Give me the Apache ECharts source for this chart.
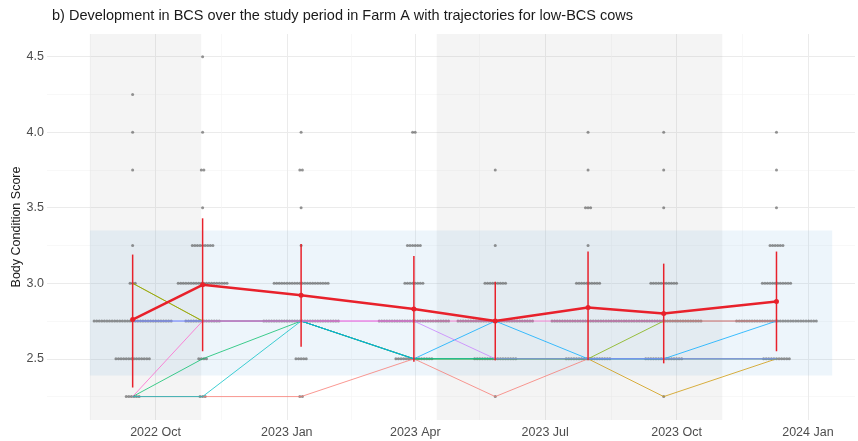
<!DOCTYPE html>
<html>
<head>
<meta charset="utf-8">
<title>BCS Farm A</title>
<script src="https://cdn.jsdelivr.net/npm/echarts@6/dist/echarts.min.js"></script>
<style>
  html, body { margin: 0; padding: 0; background: #fff; }
  #chart { width: 858px; height: 441px; }
</style>
</head>
<body>
<div id="chart"></div>
<script>
// visit dates and herd summary (mean +/- sd)
var visitDates = ['2022-09-15', '2022-11-03', '2023-01-11', '2023-03-31', '2023-05-27', '2023-07-31', '2023-09-22', '2023-12-10'];
var meanBCS  = [2.76, 2.99, 2.92, 2.83, 2.75, 2.84, 2.80, 2.88];
var lowerBCS = [2.31, 2.55, 2.58, 2.48, 2.49, 2.49, 2.47, 2.55];
var upperBCS = [3.19, 3.43, 3.26, 3.18, 3.01, 3.21, 3.13, 3.21];

// number of cows per score at each visit
var scoreLevels = [2.25, 2.5, 2.75, 3.0, 3.25, 3.5, 3.75, 4.0, 4.25, 4.5];
var scoreCounts = [
  [6, 14, 31, 3, 1, 0, 1, 1, 1, 0],
  [3, 4, 14, 20, 9, 1, 2, 1, 0, 1],
  [2, 5, 30, 22, 1, 1, 2, 1, 0, 0],
  [0, 15, 28, 8, 6, 0, 0, 2, 0, 0],
  [1, 17, 30, 9, 1, 0, 1, 0, 0, 0],
  [0, 18, 29, 10, 1, 3, 1, 1, 0, 0],
  [1, 15, 30, 11, 0, 1, 1, 1, 0, 0],
  [0, 11, 32, 12, 6, 1, 1, 1, 0, 0]
];

// low-BCS cows followed over the visits
var cow1 = [2.25, 2.25, 2.25, 2.5, 2.25, 2.5, 2.5, 2.5];
var cow2 = [3.0, 2.75, 2.75, 2.5, 2.5, 2.5, 2.25, 2.5];
var cow3 = [3.0, 2.75, 2.75, 2.5, 2.5, 2.5, 2.75, 2.75];
var cow4 = [2.25, 2.5, 2.75, 2.5, 2.5, 2.5, 2.5, 2.5];
var cow5 = [2.25, 2.25, 2.75, 2.5, 2.5, 2.5, 2.5, 2.5];
var cow6 = [2.75, 2.75, 2.75, 2.5, 2.75, 2.5, 2.5, 2.75];
var cow7 = [2.75, 2.75, 2.75, 2.75, 2.5, 2.5, 2.5, 2.5];
var cow8 = [2.25, 2.75, 2.75, 2.75, 2.75, 2.75, 2.75, 2.75];
var lowCows = [cow1, cow2, cow3, cow4, cow5, cow6, cow7, cow8];

// grazing periods and target range
var periodStart = ['2022-08-16', '2023-04-16'];
var periodEnd   = ['2022-11-02', '2023-11-02'];
var targetLow = 2.39, targetHigh = 3.35;
var targetStart = '2022-08-16', targetEnd = '2024-01-18';

var tickDates  = ['2022-10-01', '2023-01-01', '2023-04-01', '2023-07-01', '2023-10-01', '2024-01-01'];
var tickLabels = ['2022 Oct', '2023 Jan', '2023 Apr', '2023 Jul', '2023 Oct', '2024 Jan'];
var minorDates = ['2022-08-16', '2022-11-16', '2023-02-15', '2023-05-16', '2023-08-16', '2023-11-16'];

function ts(d) { return new Date(d + 'T00:00:00Z').getTime(); }
var DAY = 86400000;
var visitTimes = visitDates.map(ts);
var tickTimes = tickDates.map(ts);

var cowColors = ['#F8766D', '#CD9600', '#7CAE00', '#00BE67', '#00BFC4', '#00A9FF', '#C77CFF', '#FF61CC'];
var font = 'Liberation Sans, Arial, sans-serif';

// beeswarm-ish layout: cows with the same score are set side by side
var dotGap = 1.8 * DAY;
var dots = [];
scoreCounts.forEach(function (row, v) {
  row.forEach(function (n, k) {
    for (var i = 0; i < n; i++) {
      dots.push([visitTimes[v] + (i - (n - 1) / 2) * dotGap, scoreLevels[k]]);
    }
  });
});

var gridColor = '#ebebeb';
var xMin = ts('2022-07-17'), xMax = ts('2024-02-03');
var yMin = 2.095, yMax = 4.65;

var series = [];

series.push({
  type: 'scatter',
  data: dots,
  symbolSize: 3,
  itemStyle: { color: 'rgba(80,80,80,0.75)' },
  silent: true,
  z: 3,
  markArea: {
    silent: true,
    data: periodStart.map(function (s, i) {
      return [{ xAxis: ts(s), itemStyle: { color: 'rgba(180,180,180,0.14)' } }, { xAxis: ts(periodEnd[i]) }];
    }).concat([[
      { xAxis: ts(targetStart), yAxis: targetHigh, itemStyle: { color: 'rgba(135,190,230,0.15)' } },
      { xAxis: ts(targetEnd), yAxis: targetLow }
    ]])
  }
});

lowCows.forEach(function (cow, c) {
  series.push({
    type: 'line',
    data: cow.map(function (b, i) { return [visitTimes[i], b]; }),
    showSymbol: false,
    silent: true,
    lineStyle: { color: cowColors[c], width: 1, opacity: 0.75 },
    z: 4
  });
});

series.push({
  type: 'custom',
  data: visitTimes.map(function (t, i) { return [t, lowerBCS[i], upperBCS[i]]; }),
  encode: { x: 0, y: [1, 2] },
  renderItem: function (params, api) {
    var lo = api.coord([api.value(0), api.value(1)]);
    var hi = api.coord([api.value(0), api.value(2)]);
    return {
      type: 'line',
      shape: { x1: lo[0], y1: lo[1], x2: hi[0], y2: hi[1] },
      style: { stroke: '#e8212b', lineWidth: 1.5 }
    };
  },
  z: 5
});

series.push({
  type: 'line',
  data: visitTimes.map(function (t, i) { return [t, meanBCS[i]]; }),
  symbol: 'circle',
  symbolSize: 5,
  lineStyle: { color: '#e8212b', width: 2.5 },
  itemStyle: { color: '#e8212b' },
  z: 6
});

var chart = echarts.init(document.getElementById('chart'));
chart.setOption({
  animation: false,
  backgroundColor: '#fff',
  title: {
    text: 'b) Development in BCS over the study period in Farm A with trajectories for low-BCS cows',
    left: 52, top: 8, padding: 0,
    textStyle: { fontFamily: font, fontSize: 14.5, fontWeight: 'normal', color: '#1a1a1a' }
  },
  // y axis title, placed by hand so it sits where the original has it
  graphic: [{
    type: 'text',
    x: 17, y: 227,
    rotation: Math.PI / 2,
    style: {
      text: 'Body Condition Score',
      font: '12.5px ' + font,
      fill: '#1a1a1a',
      align: 'center',
      verticalAlign: 'middle'
    }
  }],
  grid: { left: 47, right: 3, top: 34, bottom: 21, outerBoundsMode: 'none' },
  xAxis: [{
    type: 'value', min: xMin, max: xMax,
    axisLine: { show: false },
    axisTick: { show: false, customValues: tickTimes },
    axisLabel: {
      customValues: tickTimes,
      margin: 6,
      fontFamily: font, fontSize: 12.5, color: '#4d4d4d',
      formatter: function (v) { var i = tickTimes.indexOf(v); return i >= 0 ? tickLabels[i] : ''; }
    },
    splitLine: { show: true, lineStyle: { color: gridColor, width: 1 } }
  }, {
    type: 'value', min: xMin, max: xMax, position: 'bottom',
    axisLine: { show: false },
    axisTick: { show: false, customValues: minorDates.map(ts) },
    axisLabel: { show: false },
    splitLine: { show: true, lineStyle: { color: '#f3f3f3', width: 0.6 } }
  }],
  yAxis: [{
    type: 'value', min: yMin, max: yMax,
    axisLine: { show: false },
    axisTick: { show: false, customValues: [2.5, 3.0, 3.5, 4.0, 4.5] },
    axisLabel: {
      customValues: [2.5, 3.0, 3.5, 4.0, 4.5],
      margin: 3,
      fontFamily: font, fontSize: 12.5, color: '#4d4d4d',
      formatter: function (v) { return v.toFixed(1); }
    },
    splitLine: { show: true, lineStyle: { color: gridColor, width: 1 } }
  }, {
    type: 'value', min: yMin, max: yMax, position: 'left',
    axisLine: { show: false },
    axisTick: { show: false, customValues: [2.25, 2.75, 3.25, 3.75, 4.25] },
    axisLabel: { show: false },
    splitLine: { show: true, lineStyle: { color: '#f3f3f3', width: 0.6 } }
  }],
  series: series
});
</script>
</body>
</html>
